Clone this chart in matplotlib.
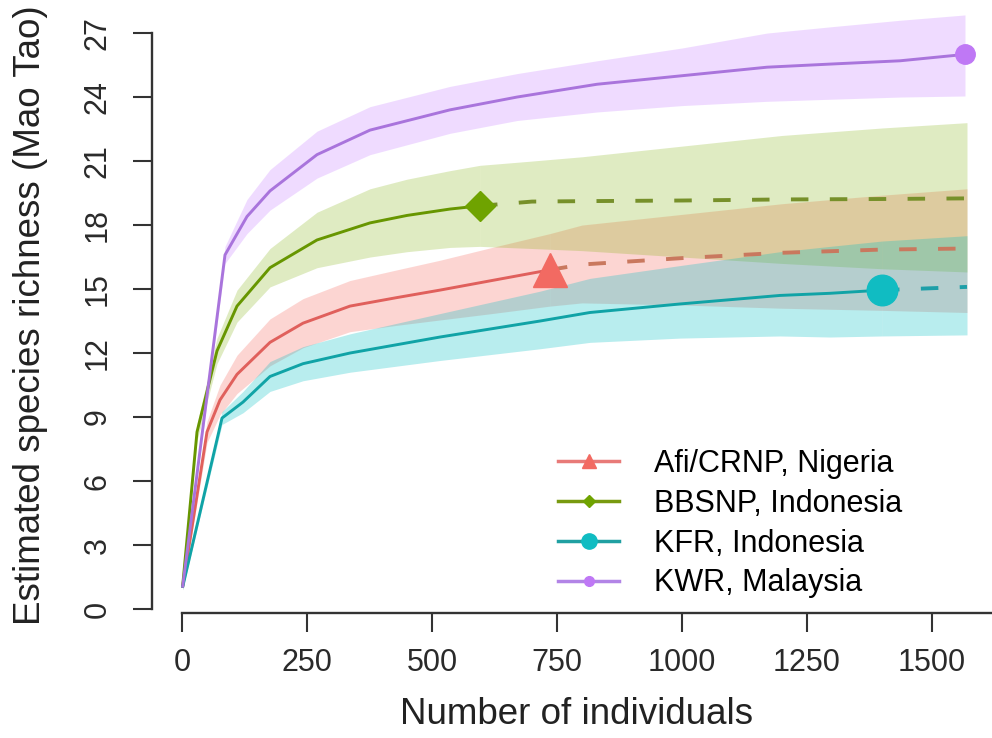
import matplotlib
matplotlib.use('Agg')
import matplotlib.pyplot as plt
from matplotlib.lines import Line2D

plt.rcParams['font.family'] = ['Liberation Sans', 'DejaVu Sans']

# ---- data ----
# observed (rarefied) part: n individuals, richness, lower/upper bound
afi_n = [1, 50, 76, 110, 176, 242, 336, 430, 516, 620, 736]
afi_s = [1.0, 8.3, 9.8, 11.0, 12.5, 13.4, 14.2, 14.6, 14.95, 15.4, 15.9]
afi_lo = [0.9, 7.8, 9.1, 10.1, 11.4, 12.25, 13.0, 13.3, 13.55, 13.85, 14.2]
afi_hi = [1.1, 8.8, 10.5, 11.9, 13.6, 14.55, 15.4, 15.9, 16.35, 16.95, 17.6]
afi_ext_n = [736, 800, 1000, 1200, 1400, 1570]
afi_ext_s = [15.9, 16.15, 16.45, 16.7, 16.85, 16.9]
afi_ext_lo = [14.2, 14.35, 14.25, 14.1, 14.0, 13.9]
afi_ext_hi = [17.6, 18.0, 18.5, 19.0, 19.4, 19.7]

bb_n = [1, 30, 70, 110, 176, 270, 376, 450, 536, 596]
bb_s = [1.0, 8.3, 12.1, 14.2, 16.0, 17.3, 18.1, 18.45, 18.75, 18.9]
bb_lo = [0.9, 7.9, 11.5, 13.45, 15.1, 16.0, 16.5, 16.75, 16.95, 17.0]
bb_hi = [1.1, 8.7, 12.7, 14.95, 16.9, 18.6, 19.7, 20.15, 20.55, 20.8]
bb_ext_n = [596, 700, 800, 1000, 1200, 1400, 1570]
bb_ext_s = [18.9, 19.1, 19.12, 19.15, 19.2, 19.22, 19.25]
bb_ext_lo = [17.0, 16.9, 16.8, 16.5, 16.2, 15.95, 15.8]
bb_ext_hi = [20.8, 21.0, 21.2, 21.7, 22.2, 22.55, 22.8]

kfr_n = [1, 80, 122, 176, 242, 336, 516, 716, 816, 996, 1196, 1296, 1400]
kfr_s = [1.0, 8.95, 9.7, 10.9, 11.5, 12.0, 12.75, 13.5, 13.9, 14.3, 14.7, 14.8, 14.95]
kfr_lo = [0.9, 8.65, 9.2, 10.2, 10.7, 11.1, 11.65, 12.2, 12.5, 12.7, 12.8, 12.75, 12.8]
kfr_hi = [1.1, 9.25, 10.2, 11.6, 12.3, 12.9, 13.85, 14.9, 15.5, 16.1, 16.75, 17.0, 17.25]
kfr_ext_n = [1400, 1570]
kfr_ext_s = [14.95, 15.1]
kfr_ext_lo = [12.8, 12.85]
kfr_ext_hi = [17.25, 17.5]

kwr_n = [1, 86, 130, 176, 270, 376, 536, 670, 830, 1000, 1170, 1300, 1436, 1566]
kwr_s = [1.0, 16.6, 18.4, 19.6, 21.3, 22.45, 23.4, 24.0, 24.6, 25.0, 25.4, 25.55, 25.7, 26.0]
kwr_lo = [0.9, 16.2, 17.6, 18.7, 20.2, 21.3, 22.3, 22.9, 23.3, 23.6, 23.8, 23.9, 24.0, 24.05]
kwr_hi = [1.1, 17.0, 19.2, 20.6, 22.4, 23.55, 24.5, 25.1, 25.7, 26.3, 27.0, 27.3, 27.6, 27.85]

labels = ['Afi/CRNP, Nigeria', 'BBSNP, Indonesia', 'KFR, Indonesia', 'KWR, Malaysia']
x_ticks = [0, 250, 500, 750, 1000, 1250, 1500]
y_ticks = [0, 3, 6, 9, 12, 15, 18, 21, 24, 27]

band_cols = ['#F8766D', '#7CAE00', '#00BFC4', '#C77CFF']
band_alpha = [0.3, 0.24, 0.28, 0.27]
line_cols = ['#E0605C', '#679600', '#10A3A6', '#A974DC']
dash_cols = ['#C9785E', '#77902A', '#1E9FA8', '#A974DC']
mark_cols = ['#F26A62', '#6FA300', '#10BCC2', '#BF78F5']

series = [
    (afi_n, afi_s, afi_lo, afi_hi, afi_ext_n, afi_ext_s, afi_ext_lo, afi_ext_hi),
    (bb_n, bb_s, bb_lo, bb_hi, bb_ext_n, bb_ext_s, bb_ext_lo, bb_ext_hi),
    (kfr_n, kfr_s, kfr_lo, kfr_hi, kfr_ext_n, kfr_ext_s, kfr_ext_lo, kfr_ext_hi),
    (kwr_n, kwr_s, kwr_lo, kwr_hi, None, None, None, None),
]
markers = ['^', 'D', 'o', 'o']
msizes = [24, 15, 22, 14]

fig = plt.figure(figsize=(9.92, 7.38), dpi=100)
ax = fig.add_axes([152 / 992, 1 - 613 / 738, 840 / 992, 613 / 738])

for i, (n, s, lo, hi, en, es, elo, ehi) in enumerate(series):
    ax.fill_between(n, lo, hi, color=band_cols[i], alpha=band_alpha[i], lw=0)
    if en is not None:
        ax.fill_between(en, elo, ehi, color=band_cols[i], alpha=band_alpha[i], lw=0)

for i, (n, s, lo, hi, en, es, elo, ehi) in enumerate(series):
    ax.plot(n, s, color=line_cols[i], lw=2.1, solid_capstyle='butt')
    if en is not None:
        ax.plot(en, es, color=dash_cols[i], lw=2.8, dashes=(4.5, 5.5))
    ax.plot(n[-1], s[-1], marker=markers[i], ms=msizes[i], color=mark_cols[i],
            mec=mark_cols[i], ls='none', zorder=5)

ax.set_xlim(-60, 1620)
ax.set_ylim(-0.1875, 28.55)
for side in ['top', 'right']:
    ax.spines[side].set_visible(False)
ax.spines['left'].set_bounds(0, 27)
ax.spines['bottom'].set_bounds(0, 1620)
for side in ['left', 'bottom']:
    ax.spines[side].set_linewidth(1.7)
    ax.spines[side].set_color('#333333')

ax.set_xticks(x_ticks)
ax.set_xticklabels([str(t) for t in x_ticks])
ax.set_yticks(y_ticks)
ax.set_yticklabels([str(t) for t in y_ticks], rotation=90, va='center')
ax.tick_params(axis='both', length=13.5, width=1.5, color='#333333',
               labelsize=22, labelcolor='#2a2a2a')
ax.tick_params(axis='x', pad=12)
ax.tick_params(axis='y', pad=15)

ax.set_xlabel('Number of individuals', fontsize=26.5, color='#222222', va='center')
ax.xaxis.set_label_coords((577 - 152) / 840, (613 - 714) / 613)
ax.set_ylabel('Estimated species richness (Mao Tao)', fontsize=26.5,
              color='#222222', va='center')
ax.yaxis.set_label_coords((31 - 152) / 840, (613 - 315) / 613)

handles = []
leg_ms = [10, 6, 11, 7]
leg_cols = ['#E87A78', '#789A10', '#20A0A2', '#B284E6']
for i in range(4):
    handles.append(Line2D([], [], color=leg_cols[i], lw=2.5, marker=markers[i],
                          ms=leg_ms[i], mfc=mark_cols[i], mec=mark_cols[i]))
fig.legend(handles, labels, loc='upper left',
           bbox_to_anchor=(558 / 992, 1 - 449 / 738), frameon=False,
           fontsize=22, borderpad=0, borderaxespad=0, handlelength=2.0,
           handletextpad=1.15, labelspacing=0.32)

fig.savefig('out.png', dpi=100)
